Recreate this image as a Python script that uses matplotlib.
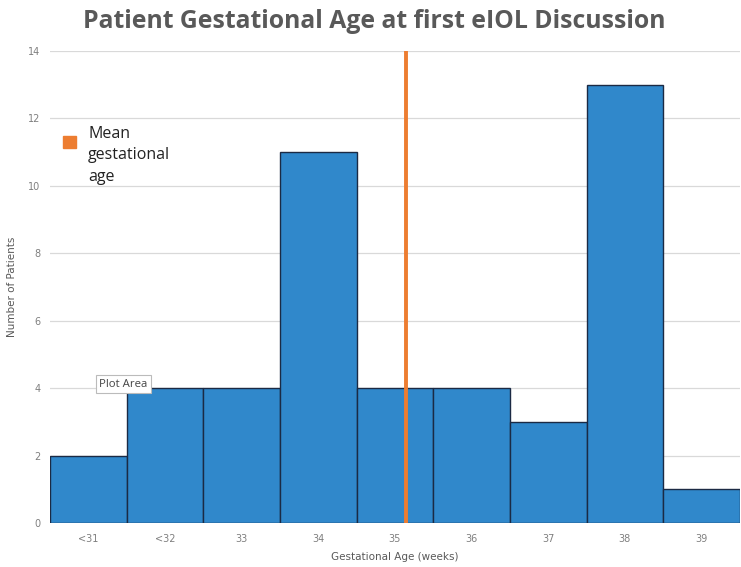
import matplotlib.pyplot as plt
import numpy as np

# data
categories = ['<31', '<32', '33', '34', '35', '36', '37', '38', '39']
patients = [2, 4, 4, 11, 4, 4, 3, 13, 1]
mean_ga = 35.15   # weeks, orange marker line
y_ticks = [0, 2, 4, 6, 8, 10, 12, 14]

BAR = '#3088CB'
EDGE = '#1B2A44'
ORANGE = '#ED7D31'
GREY = '#595959'

fig = plt.figure(figsize=(7.41, 5.67), dpi=100)
ax = fig.add_axes([0.0675, 0.0776, 0.931, 0.8324])

x = np.arange(len(categories))
ax.bar(x, patients, width=1.0, color=BAR, edgecolor=EDGE, linewidth=1.0, zorder=2)

# mean line: position relative to the "35" category
mean_x = categories.index('35') + (mean_ga - 35)
ax.axvline(mean_x, color=ORANGE, linewidth=2.8, zorder=3)

ax.set_xlim(-0.5, len(categories) - 0.5)
ax.set_ylim(0, 14)
ax.set_yticks(y_ticks)
ax.set_xticks(x)
ax.set_xticklabels(categories)
ax.tick_params(axis='both', length=0, labelsize=7, labelcolor='#7F7F7F')
ax.tick_params(axis='x', pad=8)
ax.tick_params(axis='y', pad=7)
ax.grid(axis='y', color='#D9D9D9', linewidth=0.9, zorder=0)
ax.set_axisbelow(True)
for s in ax.spines.values():
    s.set_visible(False)
ax.axhline(0, color='#D9D9D9', linewidth=0.9, zorder=1)

ax.set_xlabel('Gestational Age (weeks)', fontsize=7.5, color=GREY, labelpad=6)
ax.set_ylabel('Number of Patients', fontsize=7.5, color=GREY, labelpad=8)

title = fig.suptitle('Patient Gestational Age at first eIOL Discussion', x=0.505, y=0.984,
                     fontsize=17.8, fontweight='bold', color=GREY, family='Open Sans')

# legend-like text block
fig.patches.append(plt.Rectangle((0.0855, 0.739), 0.0165, 0.022, transform=fig.transFigure,
                                 color=ORANGE, figure=fig))
fig.text(0.119, 0.778, 'Mean\ngestational\nage', fontsize=11.5, color='#222222',
         va='top', ha='left', family='Open Sans', linespacing=1.45)

# "Plot Area" tooltip
fig.text(0.134, 0.318, 'Plot Area', fontsize=8.2, color='#444444', family='Open Sans',
         bbox=dict(boxstyle='square,pad=0.3', facecolor='white', edgecolor='#BBBBBB', linewidth=0.8))

fig.savefig('out.png', dpi=100)
